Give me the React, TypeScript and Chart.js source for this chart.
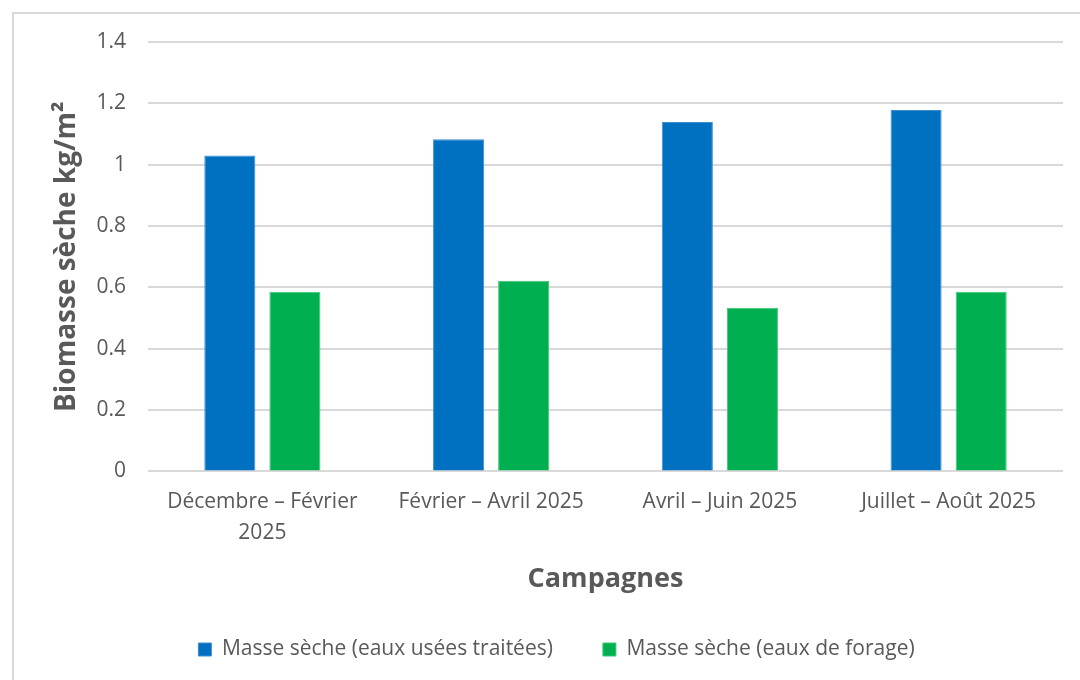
import React, { useEffect, useRef } from "react";
import { Chart, registerables } from "chart.js";

Chart.register(...registerables);

const categories: (string | string[])[] = [
  ["Décembre – Février", "2025"],
  "Février – Avril 2025",
  "Avril – Juin 2025",
  "Juillet – Août 2025",
];
const eauxUseesTraitees = [1.03, 1.083, 1.139, 1.178];
const eauxDeForage = [0.586, 0.622, 0.534, 0.586];
const seriesNames = ["Masse sèche (eaux usées traitées)", "Masse sèche (eaux de forage)"];
const yMin = 0;
const yMax = 1.4;
const yStep = 0.2;

const FONT = "'Open Sans', 'Noto Sans', sans-serif";
const TEXT = "#595959";
const GRID = "#d9d9d9";
const LEGEND_GAP = 50;
const LEGEND_SHIFT = 24;

const legendGapPlugin = {
  id: "legendGap",
  beforeInit(chart: any) {
    const lg = chart.legend;
    if (!lg) return;
    const fit = lg.fit.bind(lg);
    const inner = typeof lg._draw === "function" ? lg._draw.bind(lg) : lg.draw.bind(lg);
    lg.fit = function () {
      fit();
      this.height -= LEGEND_SHIFT;
    };
    lg.draw = function () {
      if (!this.options.display) return;
      const ctx = this.ctx;
      ctx.save();
      ctx.translate(0, -LEGEND_SHIFT);
      inner();
      ctx.restore();
    };
  },
};

export default function App() {
  const ref = useRef<HTMLCanvasElement | null>(null);
  useEffect(() => {
    if (!ref.current) return;
    const chart = new Chart(ref.current, {
      type: "bar",
      data: {
        labels: categories,
        datasets: [
          {
            label: seriesNames[0],
            data: eauxUseesTraitees,
            backgroundColor: "#0070C0",
            borderColor: "#3d8fd0",
            borderWidth: 1,
          },
          {
            label: seriesNames[1],
            data: eauxDeForage,
            backgroundColor: "#00B050",
            borderColor: "#3dc577",
            borderWidth: 1,
          },
        ],
      },
      options: {
        animation: false,
        responsive: false,
        maintainAspectRatio: false,
        datasets: { bar: { categoryPercentage: 0.569, barPercentage: 0.785 } },
        layout: { padding: { top: 42, left: 50, right: 17, bottom: 10 } },
        plugins: {
          tooltip: { enabled: false },
          legend: {
            position: "bottom",
            labels: {
              color: TEXT,
              font: { family: FONT, size: 21 },
              boxWidth: 13,
              boxHeight: 13,
              padding: LEGEND_GAP,
            },
          },
        },
        scales: {
          x: {
            grid: { display: false, drawTicks: false },
            border: { display: false },
            ticks: {
              color: TEXT,
              font: { family: FONT, size: 21, lineHeight: 1.48 },
              padding: 15,
              maxRotation: 0,
              autoSkip: false,
            },
            title: {
              display: true,
              text: "Campagnes",
              color: TEXT,
              font: { family: FONT, size: 27, weight: "bold" },
              padding: { top: 0, bottom: 17 },
            },
          },
          y: {
            min: yMin,
            max: yMax,
            grid: { color: GRID, lineWidth: 2, drawTicks: false },
            border: { display: false },
            ticks: {
              stepSize: yStep,
              color: TEXT,
              font: { family: FONT, size: 21 },
              padding: 22,
              callback: (v: any) => String(Math.round(Number(v) * 10) / 10),
            },
            title: {
              display: true,
              text: "Biomasse sèche kg/m²",
              color: TEXT,
              font: { family: FONT, size: 28, weight: "bold" },
              padding: { top: 0, bottom: 0 },
            },
            afterFit: (scale: any) => {
              scale.width = 98;
            },
          },
        },
      },
      plugins: [legendGapPlugin],
    });
    return () => chart.destroy();
  }, []);
  return (
    <div style={{ position: "fixed", left: 0, top: 0, width: 1080, height: 680, background: "#fff" }}>
      <div
        style={{
          position: "absolute",
          left: 12,
          top: 12,
          width: 1100,
          height: 700,
          borderTop: "2px solid #d9d9d9",
          borderLeft: "2px solid #d9d9d9",
          boxSizing: "border-box",
        }}
      />
      <canvas ref={ref} width={1080} height={680} style={{ position: "absolute", left: 0, top: 0 }} />
    </div>
  );
}
